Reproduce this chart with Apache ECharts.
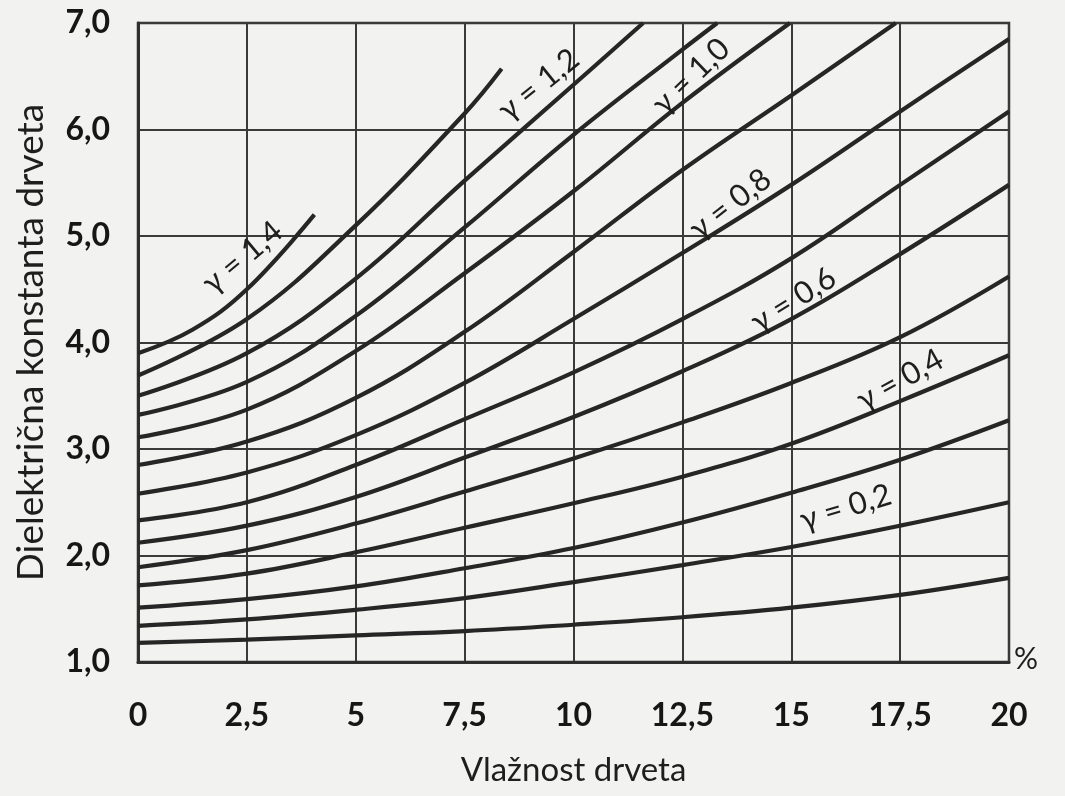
<!DOCTYPE html>
<html>
<head>
<meta charset="utf-8">
<script src="https://cdn.jsdelivr.net/npm/echarts@6/dist/echarts.min.js"></script>
<style>
  html, body { margin: 0; padding: 0; background: #f2f2f0; }
  #chart { width: 1065px; height: 796px; }
</style>
</head>
<body>
<div id="chart"></div>
<script>
// vlažnost drveta (%) i dielektrična konstanta, očitano s dijagrama
const xTicks = [0, 2.5, 5, 7.5, 10, 12.5, 15, 17.5, 20]
const yTicks = [1, 2, 3, 4, 5, 6, 7]

const gamma01 = [[0, 1.18], [2.5, 1.21], [5, 1.25], [7.5, 1.29], [10, 1.35], [12.5, 1.42], [15, 1.51], [17.5, 1.63], [20, 1.79]]
const gamma02 = [[0, 1.34], [2.5, 1.40], [5, 1.49], [7.5, 1.60], [10, 1.75], [12.5, 1.91], [15, 2.08], [17.5, 2.28], [20, 2.50]]
const gamma03 = [[0, 1.51], [2.5, 1.59], [5, 1.71], [7.5, 1.88], [10, 2.07], [12.5, 2.31], [15, 2.59], [17.5, 2.90], [20, 3.27]]
const gamma04 = [[0, 1.72], [2.5, 1.83], [5, 2.03], [7.5, 2.26], [10, 2.49], [12.5, 2.74], [15, 3.05], [17.5, 3.45], [20, 3.88]]
const gamma05 = [[0, 1.89], [2.5, 2.05], [5, 2.30], [7.5, 2.60], [10, 2.91], [12.5, 3.25], [15, 3.62], [17.5, 4.05], [20, 4.62]]
const gamma06 = [[0, 2.12], [2.5, 2.28], [5, 2.55], [7.5, 2.92], [10, 3.30], [12.5, 3.73], [15, 4.22], [17.5, 4.83], [20, 5.48]]
const gamma07 = [[0, 2.33], [2.5, 2.50], [5, 2.85], [7.5, 3.28], [10, 3.72], [12.5, 4.22], [15, 4.79], [17.5, 5.48], [20, 6.17]]
const gamma08 = [[0, 2.58], [2.5, 2.78], [5, 3.13], [7.5, 3.62], [10, 4.22], [12.5, 4.84], [15, 5.48], [17.5, 6.17], [20, 6.85]]
const gamma09 = [[0, 2.85], [2.5, 3.07], [5, 3.48], [7.5, 4.10], [10, 4.85], [12.5, 5.62], [15, 6.32], [17.4, 7.0]]
const gamma10 = [[0, 3.11], [2.5, 3.37], [5, 3.92], [7.5, 4.65], [10, 5.42], [12.5, 6.25], [14.97, 7.0]]
const gamma11 = [[0, 3.32], [2.5, 3.63], [5, 4.25], [7.5, 5.08], [10, 5.95], [12.5, 6.75], [13.3, 7.0]]
const gamma12 = [[0, 3.50], [2.5, 3.90], [5, 4.60], [7.5, 5.52], [10, 6.42], [11.6, 7.0]]
const gamma13 = [[0, 3.69], [2.5, 4.22], [5, 5.10], [7.5, 6.15], [8.35, 6.57]]
const gamma14 = [[0, 3.90], [1.25, 4.12], [2.5, 4.50], [4.05, 5.2]]

const curves = [gamma01, gamma02, gamma03, gamma04, gamma05, gamma06, gamma07,
  gamma08, gamma09, gamma10, gamma11, gamma12, gamma13, gamma14]

// natpisi uz krivulje: tekst, položaj (x, y), nagib
const labelTexts = ['γ = 1,4', 'γ = 1,2', 'γ = 1,0', 'γ = 0,8', 'γ = 0,6', 'γ = 0,4', 'γ = 0,2']
const labelX = [2.4, 9.2, 12.7, 13.6, 15.05, 17.5, 16.25]
const labelY = [4.8, 6.42, 6.5, 5.3, 4.4, 3.65, 2.45]
const labelAngle = [40, 39, 44, 38, 32, 29, 17]

const chart = echarts.init(document.getElementById('chart'))

const fmt = (v) => String(v).replace('.', ',')
const ink = '#262626'
const font = 'Lato, "Open Sans", sans-serif'

const series = curves.map((pts) => ({
  type: 'line',
  data: pts,
  smooth: 0.4,
  showSymbol: false,
  silent: true,
  lineStyle: { color: ink, width: 4.2 },
  z: 3
}))

// natpisi kao markPoint na zasebnoj praznoj seriji
series.push({
  type: 'scatter',
  data: [],
  silent: true,
  markPoint: {
    symbol: 'circle',
    symbolSize: 0,
    data: labelTexts.map((t, i) => ({
      coord: [labelX[i], labelY[i]],
      label: {
        show: true,
        position: 'inside',
        formatter: t,
        rotate: labelAngle[i],
        color: '#1e1e1e',
        fontSize: 31,
        fontFamily: font
      }
    }))
  }
})

chart.setOption({
  backgroundColor: '#f2f2f0',
  animation: false,
  grid: {
    left: 138, right: 56, top: 23, bottom: 134,
    show: true, borderColor: '#2e2e2e', borderWidth: 2.5, backgroundColor: 'transparent'
  },
  xAxis: {
    type: 'value',
    min: 0, max: 20, interval: 2.5,
    name: 'Vlažnost drveta',
    nameLocation: 'middle',
    nameGap: 92,
    nameTextStyle: { color: '#1e1e1e', fontSize: 33, fontFamily: font },
    axisLine: { lineStyle: { color: '#2e2e2e', width: 3 } },
    axisTick: { show: false },
    axisLabel: {
      color: '#161616', fontSize: 32, fontWeight: 'bold', fontFamily: font, margin: 38,
      formatter: (v) => xTicks.includes(v) ? fmt(v) : ''
    },
    splitLine: { show: true, lineStyle: { color: '#3a3a3a', width: 2 } }
  },
  yAxis: {
    type: 'value',
    min: 1, max: 7, interval: 1,
    name: 'Dielektrična konstanta drveta',
    nameLocation: 'middle',
    nameRotate: 90,
    nameGap: 88,
    nameTextStyle: { color: '#1e1e1e', fontSize: 37, fontFamily: font },
    axisLine: { lineStyle: { color: '#2e2e2e', width: 3 } },
    axisTick: { show: false },
    axisLabel: {
      color: '#161616', fontSize: 32, fontWeight: 'bold', fontFamily: font, margin: 28,
      formatter: (v) => yTicks.includes(v) ? v.toFixed(1).replace('.', ',') : ''
    },
    splitLine: { show: true, lineStyle: { color: '#3a3a3a', width: 2 } }
  },
  graphic: [{
    type: 'text',
    left: 1014, top: 644,
    style: { text: '%', fill: '#1e1e1e', fontSize: 30, fontFamily: font }
  }],
  series
})
</script>
</body>
</html>
